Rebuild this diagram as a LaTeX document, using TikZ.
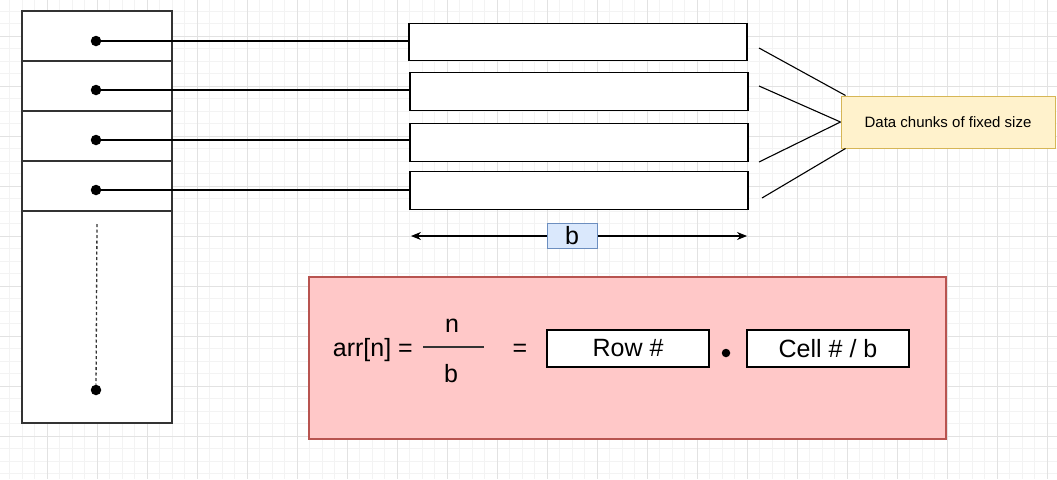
\documentclass[tikz,border=0pt]{standalone}
\usepackage{fontspec}
\setmainfont{Liberation Sans}
\usetikzlibrary{arrows.meta}

\definecolor{gridminor}{HTML}{F3F3F3}
\definecolor{gridmajor}{HTML}{E2E2E2}
\definecolor{notefill}{HTML}{FFF2CC}
\definecolor{notedraw}{HTML}{D6B656}
\definecolor{bluefill}{HTML}{DAE8FC}
\definecolor{bluedraw}{HTML}{6C8EBF}
\definecolor{pinkfill}{HTML}{FFC8C8}
\definecolor{pinkdraw}{HTML}{B85450}
\definecolor{linegray}{HTML}{333333}

\tikzset{
  cell/.style = {draw=linegray, line width=1.3pt, fill=white, minimum width=150pt, inner sep=0pt},
  chunk/.style = {draw=black, line width=1.2pt, fill=white, minimum width=338pt, minimum height=37.5pt, inner sep=0pt},
  dot/.style = {circle, fill=black, minimum size=10.5pt, inner sep=0pt},
  big/.style = {font=\fontsize{25}{30}\selectfont, inner sep=0pt},
  wire/.style = {line width=1.1pt, draw=black},
}

\begin{document}
\begin{tikzpicture}[x=1pt, y=-1pt]
  \useasboundingbox (0,0) rectangle (1057,479);
  \fill[white] (0,0) rectangle (1057,479);

  % grid
  \foreach \gx in {-3,9.5,...,1060} \draw[gridminor, line width=0.8pt] (\gx,0) -- (\gx,479);
  \foreach \gy in {-14,-1.5,...,480} \draw[gridminor, line width=0.8pt] (0,\gy) -- (1057,\gy);
  \foreach \gx in {47,97,...,1060} \draw[gridmajor, line width=1pt] (\gx,0) -- (\gx,479);
  \foreach \gy in {36,86,...,480} \draw[gridmajor, line width=1pt] (0,\gy) -- (1057,\gy);

  % array of pointers
  \node (c1) [cell, minimum height=50pt] at (97,36) {};
  \node (c2) [cell, minimum height=50pt] at (97,86) {};
  \node (c3) [cell, minimum height=50pt] at (97,136) {};
  \node (c4) [cell, minimum height=50pt] at (97,186) {};
  \node (c5) [cell, minimum height=212pt] at (97,317) {};

  \node (p1) [dot] at (96,41) {};
  \node (p2) [dot] at (96,90) {};
  \node (p3) [dot] at (96,140) {};
  \node (p4) [dot] at (96,190) {};
  \node (p5) [dot] at (96,390) {};
  \coordinate (dtop) at (97,224);
  \draw[linegray, line width=1.3pt, dash pattern=on 3pt off 2.5pt] (dtop) -- (p5);

  % data chunks
  \node (r1) [chunk] at (578,42) {};
  \node (r2) [chunk] at (579,91.5) {};
  \node (r3) [chunk] at (579,142.5) {};
  \node (r4) [chunk] at (579,190.5) {};

  \draw[wire] (p1.center) -- (p1 -| r1.west);
  \draw[wire] (p2.center) -- (p2 -| r2.west);
  \draw[wire] (p3.center) -- (p3 -| r3.west);
  \draw[wire] (p4.center) -- (p4 -| r4.west);

  % note
  \node (note) [draw=notedraw, fill=notefill, line width=1pt, minimum width=214pt, minimum height=52pt,
    font=\fontsize{15}{18}\selectfont] at (948,122) {Data chunks of fixed size};

  \coordinate (e1) at (759,48);
  \coordinate (e2) at (759,86);
  \coordinate (e3) at (759,162);
  \coordinate (e4) at (762,198);
  \draw[wire] (e1) -- ([xshift=5pt]note.north west);
  \draw[wire] (e2) -- (note.west);
  \draw[wire] (e3) -- (note.west);
  \draw[wire] (e4) -- ([xshift=5pt]note.south west);

  % width b
  \coordinate (a1) at (411,236);
  \coordinate (a2) at (747,236);
  \draw[wire, {Stealth[length=10pt, width=8pt]}-{Stealth[length=10pt, width=8pt]}] (a1) -- (a2);
  \node (bw) [big, draw=bluedraw, fill=bluefill, line width=1pt, minimum width=50pt, minimum height=25pt] at (572,236) {b};

  % formula
  \node (formula) [draw=pinkdraw, fill=pinkfill, line width=1.2pt, minimum width=637pt, minimum height=162pt] at (627.5,358) {};
  \node (arr) [big, anchor=east] at (413,350) {arr[n] =};
  \coordinate (f1) at (423,347);
  \coordinate (f2) at (484,347);
  \draw[linegray, line width=1.2pt] (f1) -- (f2);
  \node (num) [big] at (452,326) {n};
  \node (den) [big] at (451,374) {b};
  \node (eq) [big] at (520,350) {=};
  \node (row) [chunk, big, minimum width=162pt, minimum height=37pt] at (628,348.5) {Row \#};
  \node (mul) [circle, fill=black, minimum size=8.5pt, inner sep=0pt] at (726,353) {};
  \node (col) [chunk, big, minimum width=162pt, minimum height=37pt] at (828,348.5) {Cell \# / b};
\end{tikzpicture}
\end{document}
